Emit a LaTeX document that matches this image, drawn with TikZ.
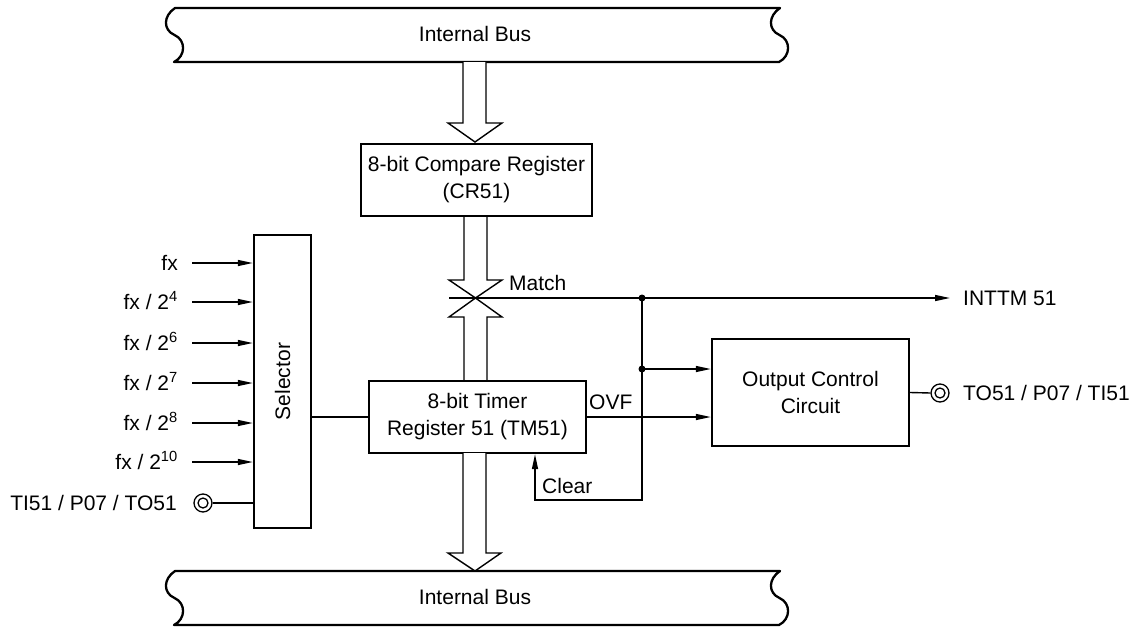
\documentclass[tikz,border=0pt]{standalone}
\usepackage{fontspec}
\setmainfont{Liberation Sans}
\usetikzlibrary{arrows.meta}
\tikzset{
  intbus/.pic={
    \draw[line width=2.3pt, line join=round]
      (175,8) -- (780,8)
      .. controls (768,16) and (768,30) .. (779.5,35)
      .. controls (791,40) and (791,56) .. (779,62)
      -- (174,62)
      .. controls (186,56) and (186,40) .. (174.5,35)
      .. controls (163,30) and (163,16) .. (175,8) -- cycle;
  }
}
\begin{document}
\begin{tikzpicture}[x=1pt,y=-1pt,
  box/.style={draw, line width=2.4pt, align=center, inner sep=0pt},
  conn/.style={line width=1.4pt},
  arr/.style={conn, -{Triangle[length=15pt,width=6pt]}},
  hollow/.style={draw, line width=1.4pt, line join=miter},
  lbl/.style={inner sep=0pt},
  dot/.style={circle, fill, inner sep=0pt, minimum size=7pt},
  term/.style={circle, draw, line width=1.3pt, inner sep=0pt, minimum size=18pt},
  font=\fontsize{21}{27}\selectfont]
\useasboundingbox (0,0) rectangle (1138,627);

% buses
\pic at (0,0) {intbus};
\pic at (0,563) {intbus};
\node[lbl, anchor=base] (bustop) at (475,41.5) {Internal Bus};
\node[lbl, anchor=base] (busbot) at (475,604.5) {Internal Bus};

% boxes
\node[box, minimum width=231pt, minimum height=72pt] (cr) at (476.5,180) {8-bit Compare Register\\(CR51)};
\node[box, minimum width=217pt, minimum height=72pt] (tm) at (477.5,417) {8-bit Timer\\Register 51 (TM51)};
\node[box, minimum width=57pt, minimum height=293pt] (sel) at (282.5,381.5) {};
\node[rotate=90, lbl] (seltxt) at (sel.center) {Selector};
\node[box, minimum width=197pt, minimum height=107pt] (occ) at (810.5,392.5) {Output Control\\Circuit};

% hollow bus arrows
\draw[hollow, fill=white] (463,62) -- (463,123) -- (448,123) -- (475,142) -- (502,123) -- (486,123) -- (486,62);
\draw[hollow, fill=white] (463,453) -- (463,553) -- (448,553) -- (475,571) -- (501,553) -- (486,553) -- (486,453);
\draw[hollow] (464,216) -- (464,280) -- (449,280) -- (475.5,298) -- (502,280) -- (487,280) -- (487,216);
\draw[hollow] (464,381) -- (464,317) -- (449,317) -- (475.5,298) -- (502,317) -- (487,317) -- (487,381);

% match / INTTM
\coordinate (mstart) at (449,298);
\node[dot] (j1) at (642,298) {};
\node[dot] (j2) at (642,369) {};
\node[lbl, anchor=base west] (inttm) at (963,305.5) {INTTM 51};
\node[lbl, anchor=base west] (match) at (509,290.5) {Match};
\draw[arr] (mstart) -- (j1.center) -- (950,298);
\coordinate (clr) at (642,500);
\draw[arr] (j1.center) -- (clr) -| ([xshift=57.5pt]tm.south);
\node[lbl, anchor=base west] (clear) at (542,493.5) {Clear};
\draw[arr] (j2.center) -- (j2 -| occ.west);
\draw[arr] (tm.east) -- (tm.east -| occ.west);
\node[lbl, anchor=base west] (ovf) at (589,409.5) {OVF};

% selector to timer
\draw[conn] (sel.east |- tm.west) -- (tm.west);

% inputs
\foreach \yy/\txt [count=\i] in {263/fx, 302/{fx / 2\textsuperscript{4}}, 343/{fx / 2\textsuperscript{6}}, 383/{fx / 2\textsuperscript{7}}, 423/{fx / 2\textsuperscript{8}}, 462/{fx / 2\textsuperscript{10}}}{
  \node[lbl, anchor=base east] (lab\i) at (178,\yy+7.5) {\txt};
  \coordinate (in\i) at (192,\yy);
  \draw[arr] (in\i) -- (in\i -| sel.west);
}

% terminals
\node[term] (ti) at (203,503) {};
\draw[line width=1.3pt] (ti.center) circle (5pt);
\draw[conn] (ti.east) -- (ti.east -| sel.west);
\node[lbl, anchor=base east] (tilab) at (177,510.5) {TI51 / P07 / TO51};

\node[term] (to) at (940,393) {};
\draw[line width=1.3pt] (to.center) circle (5pt);
\draw[conn] (occ.east) -- (to.west);
\node[lbl, anchor=base west] (tolab) at (963,400.5) {TO51 / P07 / TI51};
\end{tikzpicture}
\end{document}
